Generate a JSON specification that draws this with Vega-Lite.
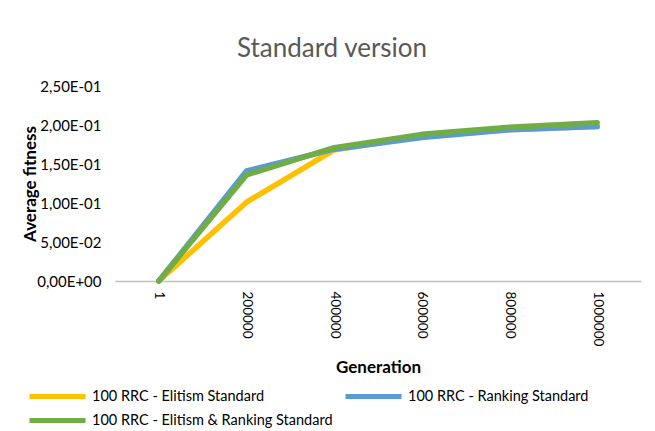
{
  "$schema": "https://vega.github.io/schema/vega-lite/v6.json",
  "autosize": {"type": "none"},
  "width": 526,
  "height": 195,
  "padding": {"left": 115, "top": 86, "right": 14, "bottom": 150},
  "background": "white",
  "title": {
    "text": "Standard version",
    "fontSize": 26,
    "font": "Lato",
    "fontWeight": "normal",
    "color": "#595959",
    "anchor": "middle",
    "dx": -46,
    "offset": 17
  },
  "data": {
    "values": [
      {"gen": "1", "series": "100 RRC - Elitism Standard", "value": 0},
      {"gen": "200000", "series": "100 RRC - Elitism Standard", "value": 0.101},
      {"gen": "400000", "series": "100 RRC - Elitism Standard", "value": 0.168},
      {"gen": "600000", "series": "100 RRC - Elitism Standard", "value": 0.186},
      {"gen": "800000", "series": "100 RRC - Elitism Standard", "value": 0.194},
      {"gen": "1000000", "series": "100 RRC - Elitism Standard", "value": 0.198},
      {"gen": "1", "series": "100 RRC - Ranking Standard", "value": 0},
      {"gen": "200000", "series": "100 RRC - Ranking Standard", "value": 0.141},
      {"gen": "400000", "series": "100 RRC - Ranking Standard", "value": 0.169},
      {"gen": "600000", "series": "100 RRC - Ranking Standard", "value": 0.184},
      {"gen": "800000", "series": "100 RRC - Ranking Standard", "value": 0.194},
      {"gen": "1000000", "series": "100 RRC - Ranking Standard", "value": 0.198},
      {"gen": "1", "series": "100 RRC - Elitism & Ranking Standard", "value": 0},
      {"gen": "200000", "series": "100 RRC - Elitism & Ranking Standard", "value": 0.136},
      {"gen": "400000", "series": "100 RRC - Elitism & Ranking Standard", "value": 0.171},
      {"gen": "600000", "series": "100 RRC - Elitism & Ranking Standard", "value": 0.188},
      {"gen": "800000", "series": "100 RRC - Elitism & Ranking Standard", "value": 0.197},
      {"gen": "1000000", "series": "100 RRC - Elitism & Ranking Standard", "value": 0.203}
    ]
  },
  "mark": {"type": "line", "strokeWidth": 5.5, "strokeCap": "round", "strokeJoin": "round"},
  "encoding": {
    "x": {
      "field": "gen",
      "type": "ordinal",
      "sort": ["1", "200000", "400000", "600000", "800000", "1000000"],
      "scale": {"type": "point", "padding": 0.5},
      "axis": {
        "title": "Generation",
        "titleFont": "Lato",
        "titleFontSize": 17,
        "titleFontWeight": "bold",
        "titleColor": "#000000",
        "titlePadding": 14,
        "labelAngle": 90,
        "labelAlign": "left",
        "labelBaseline": "middle",
        "labelFont": "Lato",
        "labelFontSize": 13.5,
        "labelColor": "#000000",
        "labelPadding": 10,
        "ticks": false,
        "grid": false,
        "domainColor": "#BFBFBF",
        "domainWidth": 1.5
      }
    },
    "y": {
      "field": "value",
      "type": "quantitative",
      "scale": {"domain": [0, 0.25], "nice": false},
      "axis": {
        "title": "Average fitness",
        "titleFont": "Lato",
        "titleFontSize": 17,
        "titleFontWeight": "bold",
        "titleColor": "#000000",
        "titlePadding": -3,
        "values": [0, 0.05, 0.1, 0.15, 0.2, 0.25],
        "labelExpr": "datum.value == 0 ? '0,00E+00' : (datum.value < 0.099 ? replace(format(datum.value * 100, '.2f'), '.', ',') + 'E-02' : replace(format(datum.value * 10, '.2f'), '.', ',') + 'E-01')",
        "labelFont": "Lato",
        "labelFontSize": 15,
        "labelColor": "#000000",
        "labelPadding": 14,
        "ticks": false,
        "domain": false,
        "grid": false
      }
    },
    "color": {
      "field": "series",
      "type": "nominal",
      "sort": ["100 RRC - Elitism Standard", "100 RRC - Ranking Standard", "100 RRC - Elitism & Ranking Standard"],
      "scale": {
        "domain": ["100 RRC - Elitism Standard", "100 RRC - Ranking Standard", "100 RRC - Elitism & Ranking Standard"],
        "range": ["#FFC000", "#5B9BD5", "#70AD47"]
      },
      "legend": {
        "title": null,
        "orient": "none",
        "legendX": -88,
        "legendY": 280,
        "direction": "horizontal",
        "columns": 2,
        "gridAlign": "none",
        "columnPadding": 2,
        "rowPadding": -17,
        "symbolType": "stroke",
        "symbolSize": 3136,
        "symbolStrokeWidth": 5,
        "labelFont": "Lato",
        "labelFontSize": 14.5,
        "labelColor": "#000000",
        "labelLimit": 400,
        "labelOffset": 4
      }
    }
  },
  "config": {"view": {"stroke": null}}
}
